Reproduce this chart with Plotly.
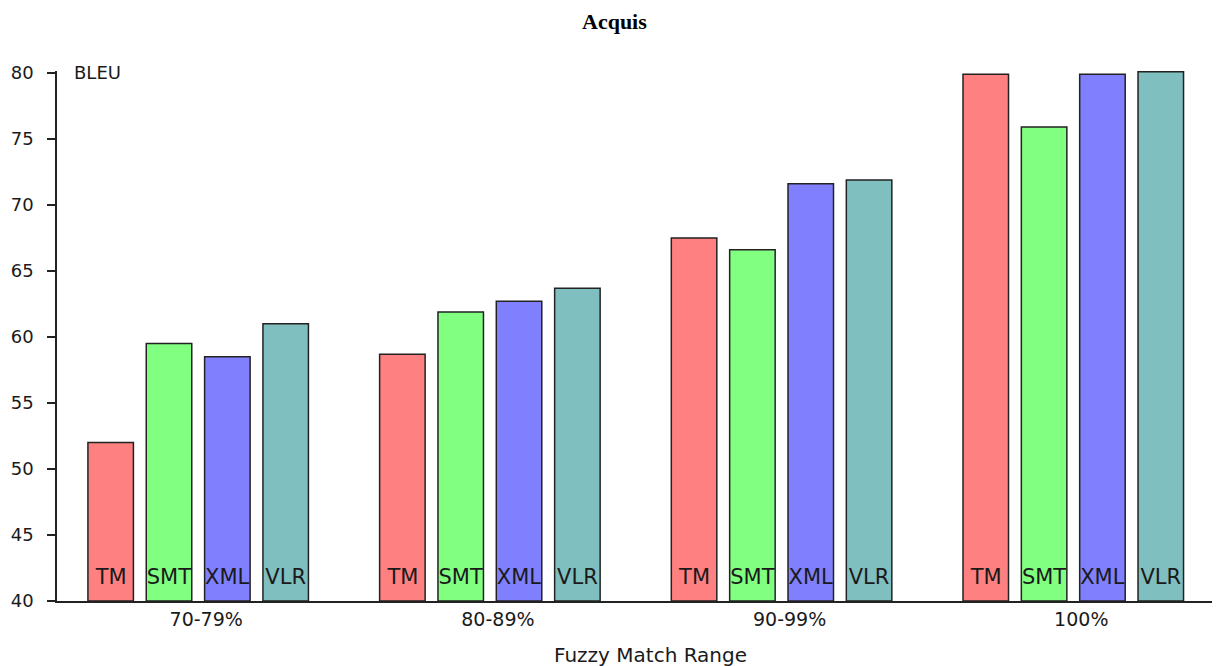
import plotly.graph_objects as go

categories = ["70-79%", "80-89%", "90-99%", "100%"]
series_names = ["TM", "SMT", "XML", "VLR"]
tm = [52.0, 58.7, 67.5, 79.9]
smt = [59.5, 61.9, 66.6, 75.9]
xml = [58.5, 62.7, 71.6, 79.9]
vlr = [61.0, 63.7, 71.9, 80.1]
colors = ["#FF8080", "#80FF80", "#8080FF", "#80BFBF"]
y_ticks = [40, 45, 50, 55, 60, 65, 70, 75, 80]

AXIS_MIN = 40
LABEL_BAND = 3.6  # height (in axis units) of the band that holds the bar labels

font_fam = "DejaVu Sans"
ink = "#1a1a1a"
fig = go.Figure()
for name, vals, col in zip(series_names, [tm, smt, xml, vlr], colors):
    fig.add_trace(go.Bar(
        x=categories, y=[v - AXIS_MIN for v in vals], base=AXIS_MIN, name=name,
        offsetgroup=name,
        marker=dict(color=col, line=dict(color="#222222", width=1.5)),
        hovertext=[str(v) for v in vals], hoverinfo="text",
    ))
for name in series_names:
    fig.add_trace(go.Bar(
        x=categories, y=[LABEL_BAND] * len(categories), base=AXIS_MIN, name=name + " label",
        offsetgroup=name,
        marker=dict(color="rgba(0,0,0,0)", line=dict(width=0)),
        text=[name] * len(categories), textposition="inside", insidetextanchor="middle",
        textangle=0, constraintext="none",
        textfont=dict(color=ink, size=21, family=font_fam),
        hoverinfo="skip",
    ))

fig.update_layout(
    barmode="group", bargap=0.2, bargroupgap=0.22,
    width=1212, height=658,
    margin=dict(l=49, r=0, t=63, b=65, autoexpand=False),
    plot_bgcolor="white", paper_bgcolor="white",
    showlegend=False,
    font=dict(family=font_fam, size=18, color=ink),
)
fig.update_yaxes(range=[40, 80.15], tickvals=y_ticks, showgrid=False, zeroline=False,
                 showline=True, linecolor="#222222", linewidth=1.5, automargin=False,
                 ticks="outside", ticklen=8, tickcolor="#222222", tickwidth=1.5,
                 ticklabelstandoff=10,
                 tickfont=dict(size=18, family=font_fam, color=ink))
fig.update_xaxes(range=[-0.484, 3.503], showgrid=False, showline=True,
                 linecolor="#222222", linewidth=1.5,
                 ticks="", automargin=False, ticklabelshift=8,
                 tickfont=dict(size=19, family=font_fam, color=ink))
fig.add_annotation(text="<b>Acquis</b>", xref="paper", yref="paper", x=0.479,
                   y=1 + (71 - 22) / 530, xanchor="center", yanchor="middle",
                   showarrow=False,
                   font=dict(family="Liberation Serif", size=22, color="black"))
fig.add_annotation(text="Fuzzy Match Range", xref="paper", yref="paper", x=0.51,
                   y=-(655 - 601) / 530, xanchor="center", yanchor="middle",
                   showarrow=False,
                   font=dict(size=20, family=font_fam, color=ink))
fig.add_annotation(text="BLEU", xref="paper", yref="y", x=0.013, y=80, xanchor="left",
                   yanchor="middle", showarrow=False,
                   font=dict(size=18, family=font_fam, color=ink))

fig.write_html("out.html")
